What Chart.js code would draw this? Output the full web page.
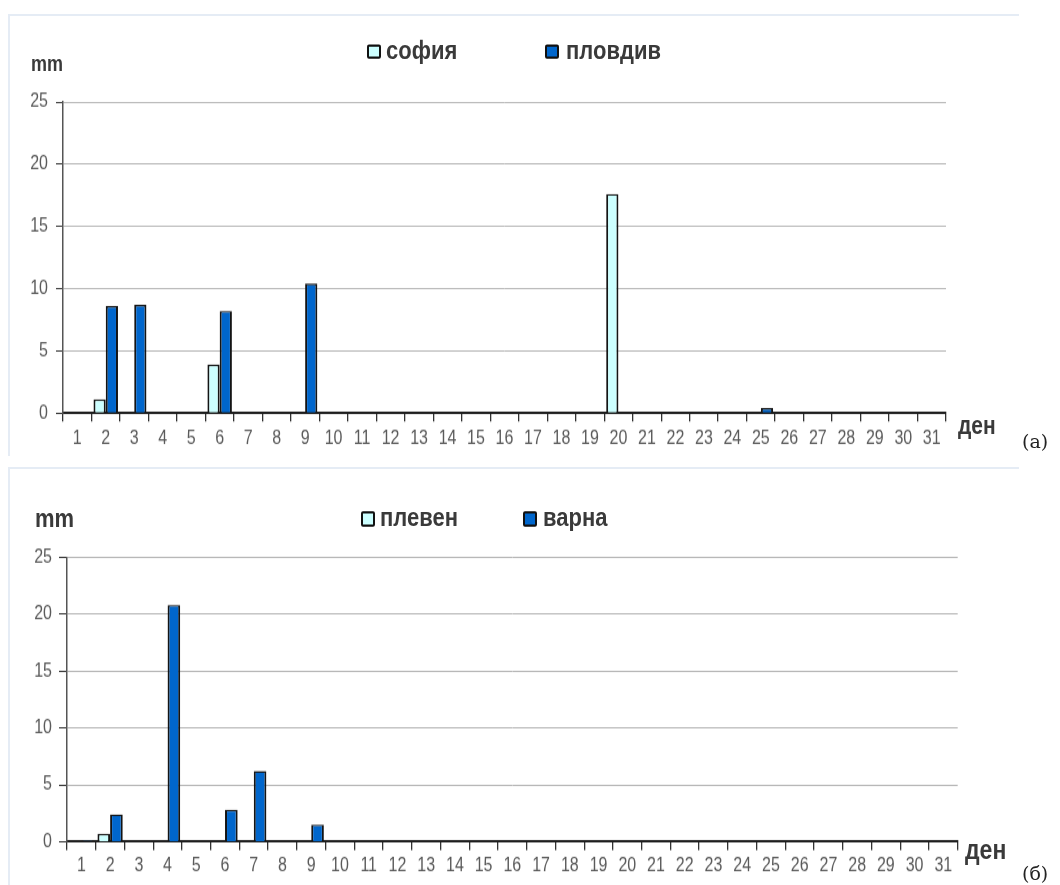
<!DOCTYPE html>
<html>
<head>
<meta charset="utf-8">
<script src="https://cdn.jsdelivr.net/npm/chart.js@4.4.1/dist/chart.umd.min.js"></script>
<style>
  html, body { margin: 0; padding: 0; background: #fff; }
  body { width: 1060px; height: 885px; position: relative; overflow: hidden;
         font-family: "Liberation Sans", Arial, sans-serif; }
  .frame { position: absolute; border-top: 2px solid #e5ecf5; border-left: 2px solid #e5ecf5; }
  /* each chart is drawn on a short canvas and stretched vertically */
  .wrap { position: absolute; left: 0; width: 1060px; transform: scaleY(1.2); transform-origin: 0 0; }
  .wrap canvas { position: absolute; left: 0; top: 0; }
  .t { position: absolute; white-space: nowrap; font-weight: bold; color: #3a3a3a;
       line-height: 1; transform: translateY(-50%); }
  .key { position: absolute; box-sizing: border-box; border: 2px solid #111; border-radius: 2px; }
  .tag { position: absolute; white-space: nowrap; font-family: "DejaVu Serif", serif; font-size: 19px;
         color: #222; line-height: 1; transform: translateY(-50%); }
</style>
</head>
<body>
<div class="frame" style="left:8px;top:14px;width:1009px;height:440px"></div>
<div class="frame" style="left:8px;top:467px;width:1009px;height:420px"></div>

<div class="wrap" id="wrapA" style="top:0px;height:375px">
  <canvas id="chartA" width="1060" height="375"></canvas>
  <div class="t" style="left:31px;top:52.7px;font-size:18px">mm</div>
  <div class="key" id="keyA0" style="left:367px;top:36.7px;width:14px;height:12.5px"></div>
  <div class="t" id="nameA0" style="left:386px;top:41.8px;font-size:22px"></div>
  <div class="key" id="keyA1" style="left:545px;top:36.7px;width:14px;height:12.5px"></div>
  <div class="t" id="nameA1" style="left:566px;top:41.8px;font-size:22px"></div>
  <div class="t" style="left:958px;top:354px;font-size:21px">ден</div>
</div>

<div class="wrap" id="wrapB" style="top:450px;height:362px">
  <canvas id="chartB" width="1060" height="362"></canvas>
  <div class="t" style="left:35px;top:57px;font-size:22px">mm</div>
  <div class="key" id="keyB0" style="left:361px;top:51.4px;width:13.5px;height:12.5px"></div>
  <div class="t" id="nameB0" style="left:380px;top:56px;font-size:22px"></div>
  <div class="key" id="keyB1" style="left:523px;top:51.4px;width:14px;height:12.5px"></div>
  <div class="t" id="nameB1" style="left:543px;top:56px;font-size:22px"></div>
  <div class="t" style="left:965px;top:332.7px;font-size:23px">ден</div>
</div>

<div class="tag" style="left:1022px;top:441px">(а)</div>
<div class="tag" style="left:1022px;top:873px">(б)</div>

<script>
// Days of the month
const days = ['1','2','3','4','5','6','7','8','9','10','11','12','13','14','15','16',
              '17','18','19','20','21','22','23','24','25','26','27','28','29','30','31'];

// Daily precipitation, mm
const sofia   = [0, 1.1, 0, 0, 0, 3.9, 0, 0, 0, 0, 0, 0, 0, 0, 0, 0,
                 0, 0, 0, 17.6, 0, 0, 0, 0, 0, 0, 0, 0, 0, 0, 0];
const plovdiv = [0, 8.6, 8.7, 0, 0, 8.2, 0, 0, 10.4, 0, 0, 0, 0, 0, 0, 0,
                 0, 0, 0, 0, 0, 0, 0, 0, 0.4, 0, 0, 0, 0, 0, 0];
const pleven  = [0, 0.7, 0, 0, 0, 0, 0, 0, 0, 0, 0, 0, 0, 0, 0, 0,
                 0, 0, 0, 0, 0, 0, 0, 0, 0, 0, 0, 0, 0, 0, 0];
const varna   = [0.1, 2.4, 0, 20.8, 0, 2.8, 6.2, 0, 1.5, 0, 0, 0, 0, 0, 0, 0,
                 0, 0, 0, 0, 0, 0, 0, 0, 0, 0, 0, 0, 0, 0, 0];

// Station names
const namesA = ['софия', 'пловдив'];
const namesB = ['плевен', 'варна'];

// Value axis
const yMin = 0, yMax = 25, yStep = 5;

const LIGHT = '#ccffff';
const DARK = '#0066cc';
const EDGE = '#141414';

function buildChart(id, series, names, g) {
  const tickFont = { family: '"Liberation Sans", Arial, sans-serif', size: 16 };
  const colors = [LIGHT, DARK];
  return new Chart(document.getElementById(id), {
    type: 'bar',
    data: {
      labels: days,
      datasets: series.map((vals, i) => ({
        label: names[i],
        data: vals,
        backgroundColor: colors[i],
        borderColor: EDGE,
        borderWidth: { left: 2, right: 2, top: 1.4, bottom: 0 },
        borderSkipped: false,
        categoryPercentage: g.cat,
        barPercentage: 1.0
      }))
    },
    options: {
      responsive: false,
      animation: false,
      events: [],
      layout: { padding: { left: 0, right: 1060 - g.right, top: g.top, bottom: 0 } },
      plugins: { legend: { display: false }, tooltip: { enabled: false } },
      scales: {
        x: {
          grid: { display: true, drawOnChartArea: false, drawTicks: true, tickLength: 7,
                  color: '#333', lineWidth: 1.3, offset: true },
          border: { display: true, color: '#1e1e1e', width: 2 },
          ticks: { color: '#5a5a5a', font: tickFont, padding: g.xPad, maxRotation: 0, autoSkip: false },
          afterFit(ax) { ax.height = g.h - g.bottom; }
        },
        y: {
          min: yMin, max: yMax,
          ticks: { stepSize: yStep, color: '#5a5a5a', font: tickFont, padding: g.yPad },
          grid: { color: '#b4b4b4', lineWidth: 1, tickLength: g.yTick, tickColor: '#333' },
          border: { color: '#555', width: 1.5 },
          afterFit(ax) { ax.width = g.left; }
        }
      }
    }
  });
}

function fillLegend(prefix, names) {
  const colors = [LIGHT, DARK];
  names.forEach((n, i) => {
    document.getElementById('name' + prefix + i).textContent = n;
    document.getElementById('key' + prefix + i).style.background = colors[i];
  });
}

fillLegend('A', namesA);
fillLegend('B', namesB);

buildChart('chartA', [sofia, plovdiv], namesA,
  { left: 63, right: 946, top: 85, bottom: 344.2, h: 375, yTick: 7, yPad: 8, xPad: 4.3, cat: 0.86 });
buildChart('chartB', [pleven, varna], namesB,
  { left: 67, right: 957.7, top: 89.4, bottom: 326.4, h: 362, yTick: 8, yPad: 7, xPad: 3.8, cat: 0.88 });
</script>
</body>
</html>
